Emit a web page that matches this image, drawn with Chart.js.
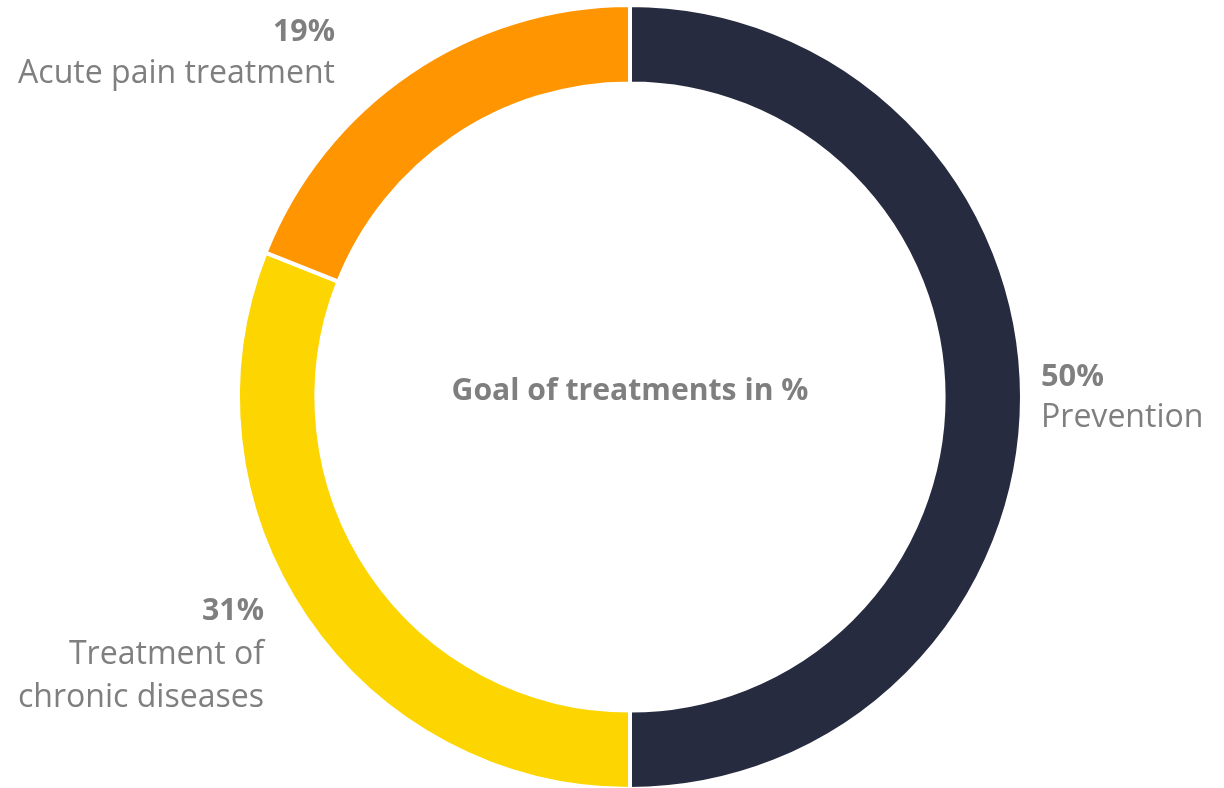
<!DOCTYPE html>
<html><head><meta charset="utf-8">
<script src="https://cdn.jsdelivr.net/npm/chart.js@4/dist/chart.umd.min.js"></script>
<style>html,body{margin:0;padding:0;background:#fff;overflow:hidden}#wrap{width:1224px;height:800px;position:relative}</style>
</head><body><div id="wrap"><canvas id="c" width="1224" height="800"></canvas></div>
<script>
const categories = ["Prevention", "Treatment of chronic diseases", "Acute pain treatment"];
const values = [50, 31, 19];
const colors = ["#272B3F", "#FDD500", "#FF9500"];
const centerTitle = "Goal of treatments in %";

function fitFont(ctx, text, target, weight, family) {
  ctx.font = weight + ' 100px ' + family;
  const w = ctx.measureText(text).width;
  const size = 100 * target / w;
  ctx.font = weight + ' ' + size.toFixed(2) + 'px ' + family;
  return size;
}

const labelPlugin = {
  id: 'labels',
  afterDraw(chart) {
    const ctx = chart.ctx;
    const fam = '"Open Sans"';
    ctx.save();
    ctx.fillStyle = '#7F7F7F';
    ctx.textBaseline = 'alphabetic';
    // center title
    ctx.textAlign = 'center';
    fitFont(ctx, centerTitle, 357, 700, fam);
    ctx.fillText(centerTitle, 630, 400);
    // Prevention
    ctx.textAlign = 'left';
    fitFont(ctx, values[0] + '%', 63, 700, fam);
    ctx.fillText(values[0] + '%', 1041, 386);
    const regSize = fitFont(ctx, 'Acute pain treatment', 317, 400, fam);
    ctx.fillText(categories[0], 1041, 427);
    // Acute pain
    ctx.textAlign = 'right';
    ctx.fillText(categories[2], 335, 83);
    ctx.fillText('Treatment of', 264, 664);
    ctx.fillText('chronic diseases', 264, 707);
    fitFont(ctx, values[2] + '%', 62, 700, fam);
    ctx.fillText(values[2] + '%', 335, 41);
    ctx.fillText(values[1] + '%', 264, 620);
    ctx.restore();
  }
};

new Chart(document.getElementById('c'), {
  type: 'doughnut',
  data: { labels: categories, datasets: [{ data: values, backgroundColor: colors, borderColor: '#ffffff', borderWidth: 4, hoverOffset: 0 }] },
  options: {
    responsive: false, animation: false, cutout: '80%',
    layout: { padding: { left: 236, right: 200, top: 3, bottom: 9 } },
    plugins: { legend: { display: false }, tooltip: { enabled: false } }
  },
  plugins: [labelPlugin]
});
</script></body></html>
